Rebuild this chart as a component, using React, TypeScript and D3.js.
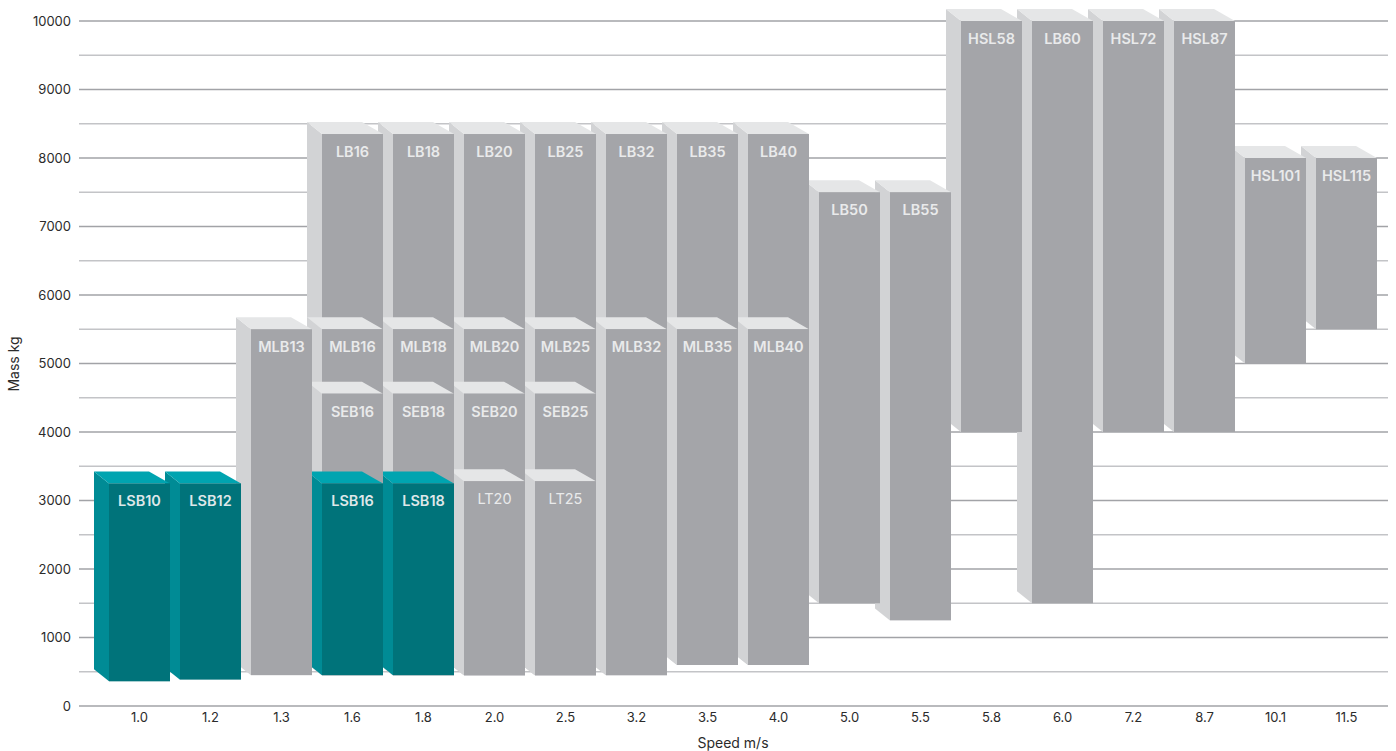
import React from "react";
import * as d3 from "d3";

// ---- data ----
const speeds = ["1.0", "1.2", "1.3", "1.6", "1.8", "2.0", "2.5", "3.2", "3.5", "4.0", "5.0", "5.5", "5.8", "6.0", "7.2", "8.7", "10.1", "11.5"];
const yTicks = [0, 1000, 2000, 3000, 4000, 5000, 6000, 7000, 8000, 9000, 10000];
const gridValues = d3.range(0, 10001, 500);

type Bar = { speed: string; name: string; low: number; high: number };

const lbSeries: Bar[] = [
  { speed: "1.6", name: "LB16", low: 450, high: 8350 },
  { speed: "1.8", name: "LB18", low: 450, high: 8350 },
  { speed: "2.0", name: "LB20", low: 450, high: 8350 },
  { speed: "2.5", name: "LB25", low: 450, high: 8350 },
  { speed: "3.2", name: "LB32", low: 450, high: 8350 },
  { speed: "3.5", name: "LB35", low: 600, high: 8350 },
  { speed: "4.0", name: "LB40", low: 600, high: 8350 },
  { speed: "5.0", name: "LB50", low: 1500, high: 7500 },
  { speed: "5.5", name: "LB55", low: 1250, high: 7500 },
  { speed: "6.0", name: "LB60", low: 1500, high: 10000 },
];
const hslSeries: Bar[] = [
  { speed: "5.8", name: "HSL58", low: 4000, high: 10000 },
  { speed: "7.2", name: "HSL72", low: 4000, high: 10000 },
  { speed: "8.7", name: "HSL87", low: 4000, high: 10000 },
  { speed: "10.1", name: "HSL101", low: 5000, high: 8000 },
  { speed: "11.5", name: "HSL115", low: 5500, high: 8000 },
];
const mlbSeries: Bar[] = [
  { speed: "1.3", name: "MLB13", low: 450, high: 5500 },
  { speed: "1.6", name: "MLB16", low: 450, high: 5500 },
  { speed: "1.8", name: "MLB18", low: 450, high: 5500 },
  { speed: "2.0", name: "MLB20", low: 450, high: 5500 },
  { speed: "2.5", name: "MLB25", low: 450, high: 5500 },
  { speed: "3.2", name: "MLB32", low: 450, high: 5500 },
  { speed: "3.5", name: "MLB35", low: 600, high: 5500 },
  { speed: "4.0", name: "MLB40", low: 600, high: 5500 },
];
const sebSeries: Bar[] = [
  { speed: "1.6", name: "SEB16", low: 450, high: 4560 },
  { speed: "1.8", name: "SEB18", low: 450, high: 4560 },
  { speed: "2.0", name: "SEB20", low: 450, high: 4560 },
  { speed: "2.5", name: "SEB25", low: 450, high: 4560 },
];
const ltSeries: Bar[] = [
  { speed: "2.0", name: "LT20", low: 450, high: 3280 },
  { speed: "2.5", name: "LT25", low: 450, high: 3280 },
];
const lsbSeries: Bar[] = [
  { speed: "1.0", name: "LSB10", low: 360, high: 3250 },
  { speed: "1.2", name: "LSB12", low: 385, high: 3250 },
  { speed: "1.6", name: "LSB16", low: 450, high: 3250 },
  { speed: "1.8", name: "LSB18", low: 450, high: 3250 },
];

// ---- styles ----
const GRAY = { front: "#a4a5a9", side: "#d2d3d5", top: "#e5e6e7", text: "#e9eaeb" };
const TEAL = { front: "#00737a", side: "#008b95", top: "#00a4b0", text: "#dfe7e9" };
const FONT = "Inter, 'Noto Sans', Arial, sans-serif";

type Drawn = Bar & { pal: typeof GRAY; weight: number };

export default function App() {
  const W = 1396, H = 751;
  const x = d3.scaleBand<string>().domain(speeds).range([104, 1382]).paddingInner(10 / 71).paddingOuter(5 / 71);
  const y = d3.scaleLinear().domain([0, 10000]).range([706, 21]);
  const DX = 15, DY = 12, DXR = 21;

  const all: Drawn[] = [
    ...lbSeries.map((b) => ({ ...b, pal: GRAY, weight: 600 })),
    ...hslSeries.map((b) => ({ ...b, pal: GRAY, weight: 600 })),
    ...mlbSeries.map((b) => ({ ...b, pal: GRAY, weight: 600 })),
    ...sebSeries.map((b) => ({ ...b, pal: GRAY, weight: 600 })),
    ...ltSeries.map((b) => ({ ...b, pal: GRAY, weight: 400 })),
    ...lsbSeries.map((b) => ({ ...b, pal: TEAL, weight: 600 })),
  ];
  // draw right-to-left, within a category tallest first
  const ordered = all.slice().sort((a, b) => {
    const ia = speeds.indexOf(a.speed), ib = speeds.indexOf(b.speed);
    if (ia !== ib) return ib - ia;
    return b.high - a.high;
  });

  const bw = x.bandwidth();
  return (
    <svg width={W} height={H} style={{ position: "absolute", left: 0, top: 0, background: "#fff" }} fontFamily={FONT}>
      {gridValues.map((v) => (
        <line key={v} x1={79} x2={1388} y1={y(v)} y2={y(v)}
          stroke={v % 1000 === 0 ? "#a2a3a7" : "#c3c4c7"} strokeWidth={1.6} />
      ))}
      {yTicks.map((v) => (
        <text key={v} x={71} y={y(v)} dy="0.35em" textAnchor="end" fontSize={13} fill="#2b2b2b">{v}</text>
      ))}
      {ordered.map((b) => {
        const x0 = x(b.speed)!;
        const x1 = x0 + bw;
        const yt = y(b.high), yb = y(b.low);
        const side = `${x0 - DX},${yt - DY} ${x0},${yt} ${x0},${yb} ${x0 - DX},${yb - DY}`;
        const top = `${x0},${yt} ${x1},${yt} ${x1 - DXR},${yt - DY} ${x0 - DX},${yt - DY}`;
        return (
          <g key={b.name}>
            <polygon points={side} fill={b.pal.side} />
            <polygon points={top} fill={b.pal.top} />
            <rect x={x0} y={yt} width={bw} height={yb - yt} fill={b.pal.front} />
            <text x={x0 + bw / 2} y={yt + 23} textAnchor="middle" fontSize={14.5}
              fontWeight={b.weight} fill={b.pal.text}>{b.name}</text>
          </g>
        );
      })}
      {speeds.map((s) => (
        <text key={s} x={x(s)! + bw / 2} y={722} textAnchor="middle" fontSize={13} fill="#2b2b2b">{s}</text>
      ))}
      <text x={733} y={748} textAnchor="middle" fontSize={14} fill="#2b2b2b">Speed m/s</text>
      <text transform={`translate(19,364) rotate(-90)`} textAnchor="middle" fontSize={14} fill="#2b2b2b">Mass kg</text>
    </svg>
  );
}
